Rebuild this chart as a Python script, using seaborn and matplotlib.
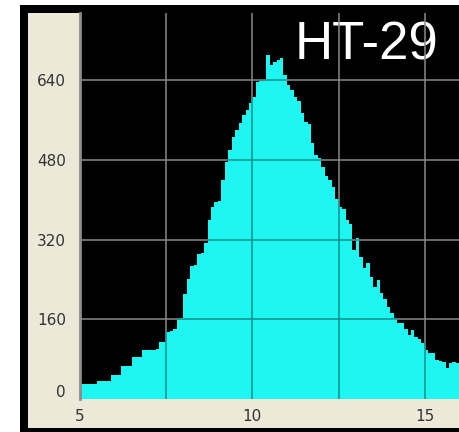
import numpy as np
import pandas as pd
import matplotlib
matplotlib.use("Agg")
import matplotlib.pyplot as plt
import seaborn as sns
from matplotlib.patches import Rectangle
from matplotlib.transforms import ScaledTranslation

# Channel histogram: counts per 0.1-wide bin starting at 5.0
bin_start = 5.0
bin_width = 0.1
counts = [
    30, 30, 30, 31, 31, 36, 36, 37, 37, 48,
    48, 49, 66, 66, 67, 84, 84, 85, 98, 98,
    99, 99, 100, 114, 115, 134, 136, 140, 161, 163,
    211, 241, 266, 268, 291, 293, 313, 359, 386, 396,
    398, 440, 476, 500, 526, 540, 554, 570, 580, 594,
    606, 637, 638, 640, 691, 671, 677, 680, 685, 650,
    631, 620, 605, 598, 574, 556, 552, 514, 490, 484,
    466, 448, 440, 426, 402, 386, 382, 359, 352, 299,
    323, 285, 263, 273, 245, 225, 239, 213, 200, 185,
    173, 163, 153, 153, 140, 129, 139, 125, 120, 112,
    98, 92, 92, 78, 76, 74, 62, 72, 74, 72,
]
y_ticks = [0, 160, 320, 480, 640]
x_ticks = [5, 10, 15]
x_grid = [7.5, 10, 12.5, 15]
y_grid = [160, 320, 480, 640]
sample_name = "HT-29"

W, H = 460, 432
sns.set_theme(style="white")
fig = plt.figure(figsize=(W / 100, H / 100), dpi=100)
fig.patch.set_facecolor("white")

# instrument window: black frame with a beige panel inside
fig.patches.append(Rectangle((20 / W, 0), 440 / W, 427 / H, transform=fig.transFigure,
                             facecolor="black", edgecolor="none", zorder=0))
fig.patches.append(Rectangle((28 / W, 4 / H), 432 / W, 415 / H, transform=fig.transFigure,
                             facecolor="#ECE9D8", edgecolor="none", zorder=1))

ax = fig.add_axes([80 / W, 33 / H, 380 / W, 386 / H])
ax.set_zorder(2)
ax.set_facecolor("black")

edges = [round(bin_start + bin_width * i, 6) for i in range(len(counts) + 1)]
centers = [e + bin_width / 2 for e in edges[:-1]]
df = pd.DataFrame({"channel": centers, "count": counts})
sns.histplot(data=df, x="channel", weights="count", bins=edges, element="step",
             fill=True, color="#1EF6F2", alpha=1, linewidth=0, ax=ax, zorder=2)
poly = ax.collections[0]
clip_path = poly.get_paths()[0]
clip_trans = poly.get_transform()

ax.set_xlim(5, 16.02)
ax.set_ylim(0, 774.5)

# sample label sits beneath the grid lines
ax.text(438 / W, (H - 20) / H, sample_name, transform=fig.transFigure, ha="right", va="top",
        color="white", fontsize=38, family="Liberation Sans", zorder=0.8)

# grid: grey over the background, dark teal where it crosses the histogram
for v in x_grid:
    ax.axvline(v, color="#8a8a8a", lw=1.1, zorder=1)
    ln = ax.axvline(v, color="#0b8f8c", lw=1.1, zorder=3)
    ln.set_clip_path(clip_path, clip_trans)
for h in y_grid:
    ax.axhline(h, color="#8a8a8a", lw=1.1, zorder=1)
    ln = ax.axhline(h, color="#0b8f8c", lw=1.1, zorder=3)
    ln.set_clip_path(clip_path, clip_trans)

for side in ["top", "right", "bottom"]:
    ax.spines[side].set_visible(False)
ax.spines["left"].set_color("#8c8c8c")
ax.spines["left"].set_linewidth(2)

ax.set_xticks(x_ticks)
ax.set_xticklabels([str(t) for t in x_ticks])
ax.set_yticks(y_ticks)
ax.set_yticklabels([str(t) for t in y_ticks])
ax.tick_params(axis="both", length=0, labelsize=11, labelcolor="#333333")
ax.tick_params(axis="y", pad=10)
ax.tick_params(axis="x", pad=7)
for lab in ax.get_yticklabels():
    lab.set_fontfamily("DejaVu Sans")
for lab in ax.get_xticklabels():
    lab.set_fontfamily("DejaVu Sans")
# the zero label sits just above the baseline
zero_lab = ax.get_yticklabels()[0]
zero_lab.set_transform(zero_lab.get_transform() + ScaledTranslation(0, 8 / 100, fig.dpi_scale_trans))

ax.set_xlabel("")
ax.set_ylabel("")

fig.savefig("out.png", dpi=100)
